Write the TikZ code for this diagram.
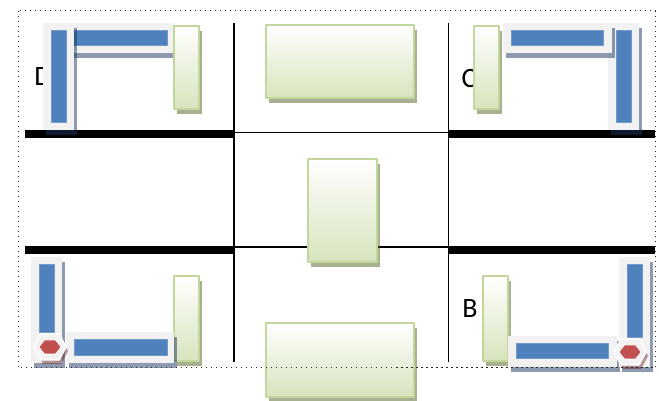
\documentclass[tikz,border=0pt]{standalone}
\usepackage{fontspec}
\setmainfont{Carlito}
\usetikzlibrary{shadows}
\definecolor{barblue}{HTML}{4F81BD}
\definecolor{padgray}{HTML}{F2F2F2}
\definecolor{boxgreen}{HTML}{D7E4BD}
\definecolor{boxedge}{HTML}{C3D69B}
\definecolor{stopred}{HTML}{C0504D}
\definecolor{navyshade}{HTML}{1B355F}
\definecolor{oliveshade}{HTML}{4F611F}
\definecolor{brownshade}{HTML}{6B1F1F}

\begin{document}
\begin{tikzpicture}[line join=bevel,
  wall/.style={black,line width=8bp},
  thinwall/.style={black,line width=1.6bp},
  frame/.style={black!85,line width=1bp,dash pattern=on 1.5bp off 3.5bp},
  pad/.style={fill=padgray,draw=none,inner sep=0pt,
    drop shadow={shadow xshift=3bp,shadow yshift=-5bp,fill=navyshade,opacity=.5}},
  bar/.style={fill=barblue,draw=barblue!80!white,line width=.6bp,inner sep=0pt},
  greenbox/.style={top color=white,bottom color=boxgreen,draw=boxedge,line width=1.6bp,inner sep=0pt,
    drop shadow={shadow xshift=3bp,shadow yshift=-5bp,fill=oliveshade,opacity=.5}},
  roomlabel/.style={inner sep=0pt,font=\fontsize{28bp}{32bp}\selectfont},
  stopsign/.pic={
    \filldraw [fill=padgray,draw=white,line width=1.5bp,
      drop shadow={shadow xshift=2bp,shadow yshift=-4bp,fill=brownshade,opacity=.45}]
      (-16bp,0bp) -- (-9bp,13bp) -- (9bp,13bp) -- (16bp,0bp) -- (9bp,-13bp) -- (-9bp,-13bp) -- cycle;
    \filldraw [fill=stopred,draw=white,line width=.6bp]
      (-11bp,0bp) -- (-5.5bp,7bp) -- (5.5bp,7bp) -- (11bp,0bp) -- (5.5bp,-7bp) -- (-5.5bp,-7bp) -- cycle;
  },
]
\useasboundingbox (0bp,0bp) rectangle (659bp,401bp);
%% walls
\coordinate (wall_tl) at (25bp,266.5bp);
\coordinate (wall_tr) at (655bp,266.5bp);
\coordinate (wall_bl) at (25bp,151bp);
\coordinate (wall_br) at (655bp,151bp);
\coordinate (col_a_top) at (234bp,378bp);
\coordinate (col_a_bot) at (234bp,39bp);
\coordinate (col_b_top) at (448.5bp,378bp);
\coordinate (col_b_bot) at (448.5bp,39bp);
\draw [wall] (wall_tl) -- (wall_tl -| col_a_top);
\draw [wall] (wall_tr -| col_b_top) -- (wall_tr);
\draw [thinwall] (234bp,268.5bp) -- (448.5bp,268.5bp);
\draw [wall] (wall_bl) -- (wall_bl -| col_a_top);
\draw [wall] (wall_br -| col_b_top) -- (wall_br);
\draw [thinwall] (234bp,154bp) -- (448.5bp,154bp);
\draw [thinwall] (col_a_top) -- (col_a_bot);
\draw [thinwall] (col_b_top) -- (col_b_bot);
%% room D
\node (lbl_d) at (43bp,324bp) [roomlabel] {D};
\node (pad_d_h) at (117bp,363bp) [pad,minimum width=114bp,minimum height=30bp] {};
\node (bar_d_h) at (113.5bp,363.5bp) [bar,minimum width=107bp,minimum height=15bp] {};
\node (pad_d_v) at (58.5bp,324.5bp) [pad,minimum width=31bp,minimum height=107bp] {};
\node (bar_d_v) at (58.5bp,325bp) [bar,minimum width=15bp,minimum height=92bp] {};
\node (box_d) at (186.5bp,333.5bp) [greenbox,minimum width=25bp,minimum height=83bp] {};
%% room C
\node (lbl_c) at (469bp,322bp) [roomlabel] {C};
\node (box_c) at (486.5bp,333.5bp) [greenbox,minimum width=25bp,minimum height=83bp] {};
\node (pad_c_v) at (623.5bp,324.5bp) [pad,minimum width=31bp,minimum height=107bp] {};
\node (bar_c_v) at (623.5bp,325bp) [bar,minimum width=15bp,minimum height=92bp] {};
\node (pad_c_h) at (557.5bp,363bp) [pad,minimum width=109bp,minimum height=30bp] {};
\node (bar_c_h) at (557bp,363.5bp) [bar,minimum width=92bp,minimum height=15bp] {};
%% middle column
\node (box_top) at (340bp,339.5bp) [greenbox,minimum width=148bp,minimum height=73bp] {};
\node (box_mid) at (342.5bp,190.5bp) [greenbox,minimum width=69bp,minimum height=103bp] {};
\node (box_bot) at (340bp,41bp) [greenbox,minimum width=148bp,minimum height=74bp] {};
%% room A
\node (box_a) at (186.5bp,82.5bp) [greenbox,minimum width=25bp,minimum height=85bp] {};
\node (pad_a_v) at (46.5bp,91bp) [pad,minimum width=31bp,minimum height=106bp] {};
\node (bar_a_v) at (46.5bp,103bp) [bar,minimum width=15bp,minimum height=68bp] {};
\node (pad_a_h) at (120bp,53.5bp) [pad,minimum width=108bp,minimum height=31bp] {};
\node (bar_a_h) at (120.5bp,54bp) [bar,minimum width=93bp,minimum height=16bp] {};
\pic (stop_a) at (50bp,54bp) {stopsign};
%% room B
\node (lbl_b) at (470bp,92bp) [roomlabel] {B};
\node (box_b) at (495.5bp,82.5bp) [greenbox,minimum width=25bp,minimum height=85bp] {};
\node (pad_b_h) at (562.5bp,49.5bp) [pad,minimum width=109bp,minimum height=31bp] {};
\node (bar_b_h) at (562bp,50.5bp) [bar,minimum width=92bp,minimum height=15bp] {};
\node (pad_b_v) at (634.5bp,89bp) [pad,minimum width=31bp,minimum height=110bp] {};
\node (bar_b_v) at (634.5bp,100.5bp) [bar,minimum width=15bp,minimum height=73bp] {};
\pic (stop_b) at (630bp,49bp) {stopsign};
%% frame
\draw [frame] (18bp,390bp) rectangle (655bp,33bp);
\end{tikzpicture}
\end{document}
